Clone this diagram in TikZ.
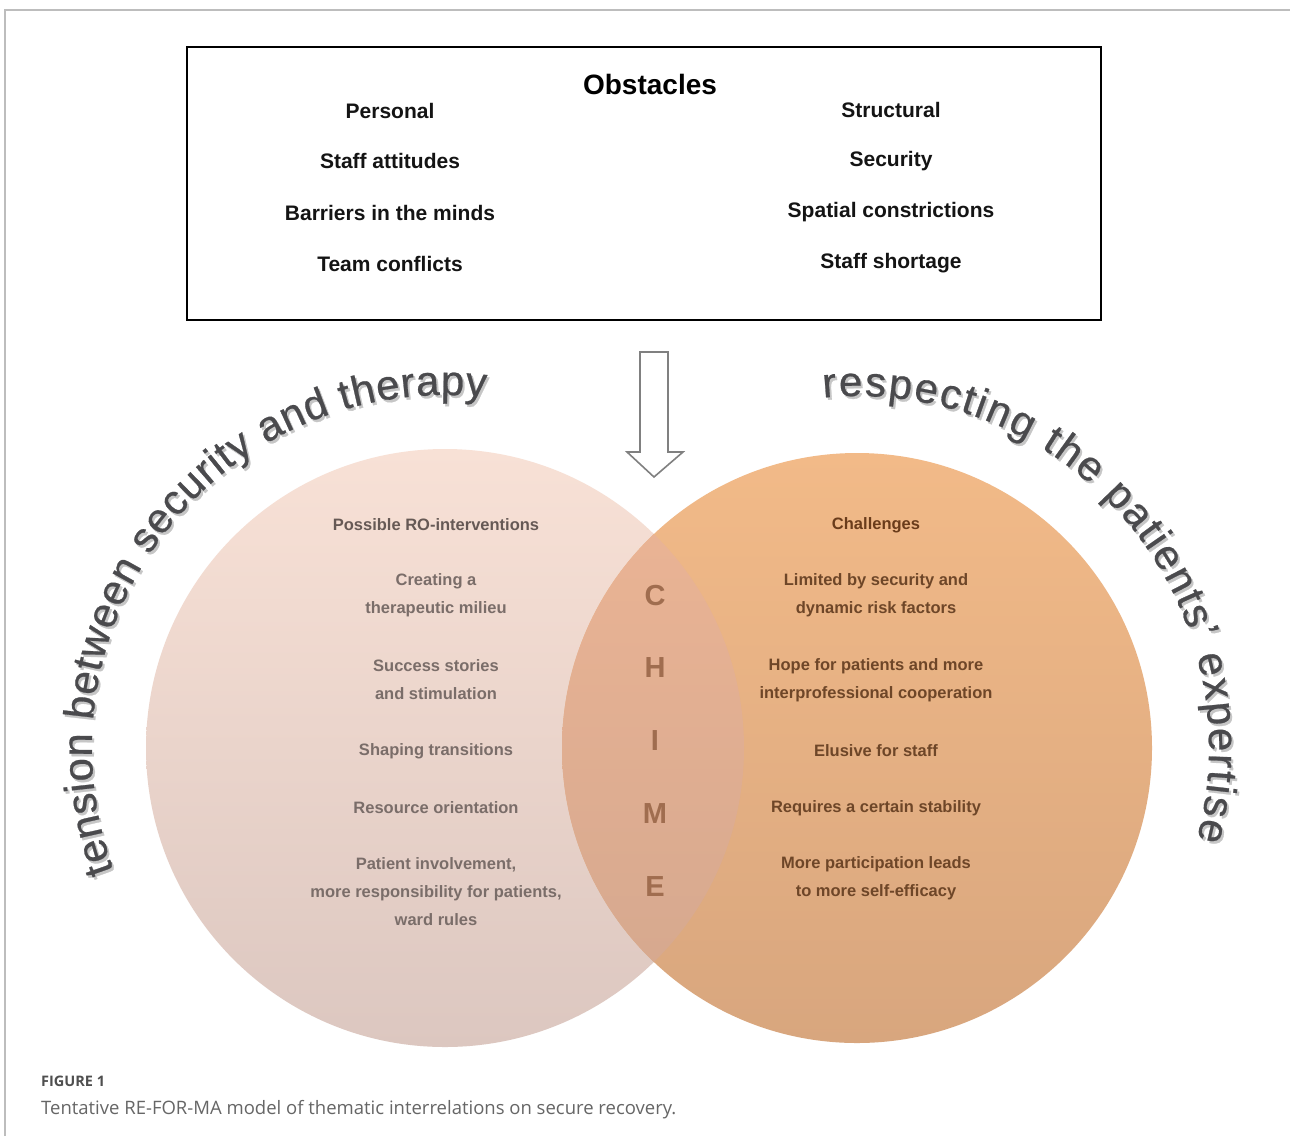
\documentclass[tikz,border=0pt]{standalone}
\usepackage{fontspec}
\setmainfont{Liberation Sans}
\newfontfamily\arcfnt[FakeBold=0.6]{Liberation Sans}
\newfontfamily\capfont{Open Sans}
\usetikzlibrary{calc,decorations.text}

\definecolor{framegray}{HTML}{BDBDBD}
\definecolor{arrowgray}{HTML}{808080}
\definecolor{lefttop}{HTML}{F8E1D6}
\definecolor{leftbot}{HTML}{DCC7C0}
\definecolor{righttop}{HTML}{F2BA88}
\definecolor{rightbot}{HTML}{D8A67E}
\definecolor{lenstop}{HTML}{EDB595}
\definecolor{lensbot}{HTML}{D3A78E}
\definecolor{lefttext}{HTML}{7A6D69}
\definecolor{lefthead}{HTML}{665955}
\definecolor{righttext}{HTML}{6E4628}
\definecolor{righthead}{HTML}{6A3C1B}
\definecolor{chimecol}{HTML}{A06D4F}
\definecolor{arcgray}{HTML}{4A4A4D}
\definecolor{arcshadow}{HTML}{C6C6C6}
\definecolor{capgray}{HTML}{4F4F4F}
\definecolor{capgraylight}{HTML}{666666}

\tikzset{
  obshead/.style={font=\fontsize{28}{32}\selectfont\bfseries, text=black},
  obsitem/.style={font=\fontsize{21}{25}\selectfont\bfseries, text=black!92},
  lhead/.style={font=\fontsize{16.5}{28}\selectfont\bfseries, text=lefthead, align=center},
  litem/.style={font=\fontsize{16.5}{28}\selectfont\bfseries, text=lefttext, align=center},
  rhead/.style={font=\fontsize{16.5}{28}\selectfont\bfseries, text=righthead, align=center},
  ritem/.style={font=\fontsize{16.5}{28}\selectfont\bfseries, text=righttext, align=center},
  chime/.style={font=\fontsize{29}{30}\selectfont\bfseries, text=chimecol}
}

\begin{document}
\begin{tikzpicture}[x=1pt,y=1pt]
\useasboundingbox (0,0) rectangle (1290,-1136);
\fill[white] (0,0) rectangle (1290,-1136);

% page frame
\draw[framegray, line width=1.2] (5,-1136) -- (5,-10) -- (1290,-10);

% obstacles box
\node[draw=black, line width=2, minimum width=914, minimum height=273, inner sep=0] (obs) at (644,-183.5) {};
\node[obshead] (obst) at (650,-84) {Obstacles};
\node[obsitem] (pers) at (390,-111) {Personal};
\node[obsitem] (struc) at (891,-110) {Structural};
\node[obsitem] (p1) at (390,-161) {Staff attitudes};
\node[obsitem] (p2) at (390,-213) {Barriers in the minds};
\node[obsitem] (p3) at (390,-264) {Team conflicts};
\node[obsitem] (s1) at (891,-161) {Security};
\node[obsitem] (s2) at (891,-212) {Spatial constrictions};
\node[obsitem] (s3) at (891,-263) {Staff shortage};

% open down arrow
\draw[arrowgray, line width=1.6, fill=white, line join=miter]
  (640,-352) -- (668,-352) -- (668,-452) -- (683,-452) -- (654,-477)
  -- (627,-452) -- (640,-452) -- cycle;

% the two circles and their overlap
\coordinate (lc) at (445,-748);
\coordinate (rc) at (857,-748);
\shade[top color=lefttop, bottom color=leftbot] (lc) circle[radius=299];
\shade[top color=righttop, bottom color=rightbot] (rc) circle[radius=295];
\begin{scope}
  \clip (lc) circle[radius=299];
  \shade[top color=lenstop, bottom color=lensbot] (rc) circle[radius=295];
\end{scope}

% curved headings (soft shadow first)
\path[decorate, decoration={text along path, text color=arcshadow,
    text={|\arcfnt\fontsize{42}{48}\selectfont|tension between security and therapy},
    text align=fit to path}]
  ($(lc)+(2,-2.5)+(200.3:353)$) arc[start angle=200.3, end angle=83.4, radius=353];
\path[decorate, decoration={text along path, text color=arcgray,
    text={|\arcfnt\fontsize{42}{48}\selectfont|tension between security and therapy},
    text align=fit to path}]
  ($(lc)+(200.3:353)$) arc[start angle=200.3, end angle=83.4, radius=353];

\path[decorate, decoration={text along path, text color=arcshadow,
    text={|\arcfnt\fontsize{42}{48}\selectfont|respecting the patients{’} expertise},
    text align=fit to path}]
  ($(rc)+(2,-2.5)+(95.5:352)$) arc[start angle=95.5, end angle=-15.1, radius=352];
\path[decorate, decoration={text along path, text color=arcgray,
    text={|\arcfnt\fontsize{42}{48}\selectfont|respecting the patients{’} expertise},
    text align=fit to path}]
  ($(rc)+(95.5:352)$) arc[start angle=95.5, end angle=-15.1, radius=352];

% left circle contents
\node[lhead] (lh) at (436,-525) {Possible RO-interventions};
\node[litem] (l1) at (436,-595) {Creating a\\therapeutic milieu};
\node[litem] (l2) at (436,-680) {Success stories\\and stimulation};
\node[litem] (l3) at (436,-751) {Shaping transitions};
\node[litem] (l4) at (436,-808) {Resource orientation};
\node[litem] (l5) at (436,-892) {Patient involvement,\\more responsibility for patients,\\ward rules};

% right circle contents
\node[rhead] (rh) at (876,-525) {Challenges};
\node[ritem] (r1) at (876,-595) {Limited by security and\\dynamic risk factors};
\node[ritem] (r2) at (876,-680) {Hope for patients and more\\interprofessional cooperation};
\node[ritem] (r3) at (876,-751) {Elusive for staff};
\node[ritem] (r4) at (876,-808) {Requires a certain stability};
\node[ritem] (r5) at (876,-878) {More participation leads\\to more self-efficacy};

% CHIME down the overlap
\node[chime] (cC) at (655,-596) {C};
\node[chime] (cH) at (655,-668) {H};
\node[chime] (cI) at (655,-741) {I};
\node[chime] (cM) at (655,-814) {M};
\node[chime] (cE) at (655,-887) {E};

% caption
\node[anchor=base west, inner sep=0, font=\capfont\fontsize{14.5}{16}\selectfont\bfseries, text=capgray] (figlab) at (41,-1086) {FIGURE 1};
\node[anchor=base west, inner sep=0, font=\capfont\fontsize{18.5}{22}\selectfont, text=capgraylight] (figcap) at (41,-1114) {Tentative RE-FOR-MA model of thematic interrelations on secure recovery.};
\end{tikzpicture}
\end{document}
